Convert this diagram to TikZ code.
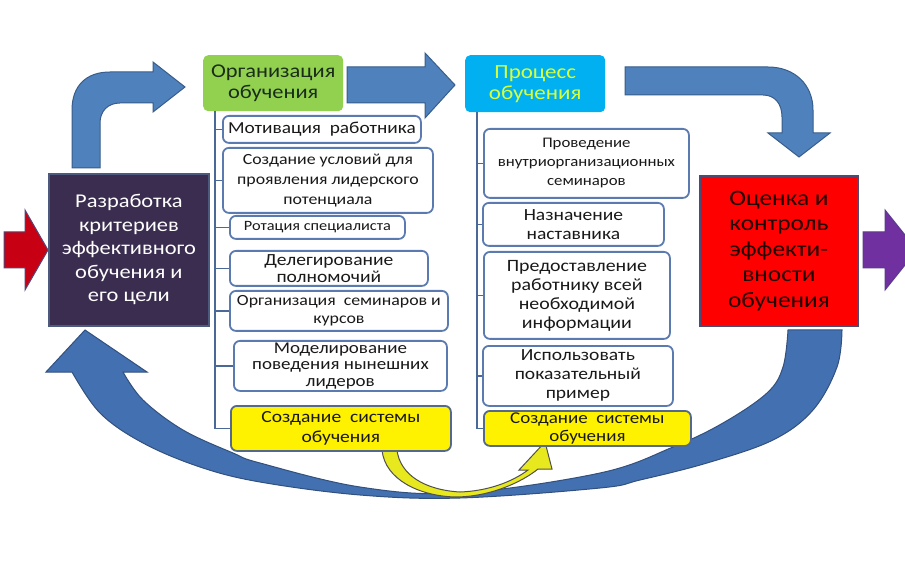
\documentclass[tikz,border=0pt]{standalone}
\usepackage{fontspec}
\setmainfont{Carlito}[FakeStretch=1.15]
\begin{document}
\begin{tikzpicture}[x=1pt,y=-1pt,
  arrowblue/.style={fill={rgb,255:red,79;green,129;blue,189},draw={rgb,255:red,56;green,93;blue,138},line width=1pt},
  arcblue/.style={fill={rgb,255:red,66;green,112;blue,176},draw={rgb,255:red,50;green,80;blue,125},line width=1pt},
  listbox/.style={draw={rgb,255:red,91;green,123;blue,176},line width=1.8pt,rounded corners=6pt,fill=white,
     anchor=north west,inner sep=0pt,align=center,text={rgb,255:red,25;green,25;blue,25}},
  yellowbox/.style={listbox,fill=yellow,draw={rgb,255:red,85;green,105;blue,140}},
  headbox/.style={anchor=north west,inner sep=0pt,align=center,rounded corners=5pt},
  bigbox/.style={anchor=north west,inner sep=0pt,align=center,line width=1.8pt},
  conn/.style={draw={rgb,255:red,75;green,105;blue,150},line width=1.5pt}
]
\clip (0,0) rectangle (905,569);
\useasboundingbox (0,0) rectangle (905,569);
\fill[white] (0,0) rectangle (905,569);

% big bottom curved arrow
\path[arcblue] (85,330) -- (147,372) -- (123,372)
  -- plot[smooth,tension=0.6] coordinates {(123,372) (143,400) (183,430) (233,453) (260,463) (360,487) (460,493) (600,473) (673,447) (723,423) (767,393) (783,367) (788,330)}
  -- (842,330)
  -- plot[smooth,tension=0.6] coordinates {(842,330) (837,367) (813,410) (773,440) (707,463) (640,480) (600,488) (460,498) (360,495) (260,482) (200,467) (143,443) (100,413) (72,372)}
  -- (46,372) -- cycle;

% yellow curved arrow
\path[fill={rgb,255:red,232;green,232;blue,30},draw={rgb,255:red,80;green,80;blue,80},line width=1pt]
  (382,450) .. controls (385,480) and (420,496) .. (455,497)
  .. controls (490,497) and (522,482) .. (538,469)
  -- (552,469) -- (545,442) -- (519,470) -- (528,470)
  .. controls (512,482) and (488,491) .. (460,492)
  .. controls (425,490) and (400,475) .. (397,450) -- cycle;

% left bent arrow
\path[arrowblue] (72,168) -- (72,110) .. controls (72,86) and (86,72) .. (110,72) -- (153,72) -- (153,62) -- (185,87) -- (153,112) -- (153,103) -- (120,103) .. controls (108,103) and (100,111) .. (100,123) -- (100,168) -- cycle;
% straight arrow
\path[arrowblue] (347,67) -- (425,67) -- (425,53) -- (455,85) -- (425,118) -- (425,103) -- (347,103) -- cycle;
% right bent arrow
\path[arrowblue] (625,67) -- (768,67) .. controls (795,67) and (813,85) .. (813,110) -- (813,133) -- (830,133) -- (799,157) -- (768,133) -- (782,133) -- (782,117) .. controls (782,104) and (775,95) .. (763,95) -- (625,95) -- cycle;

% in / out arrows
\path[fill={rgb,255:red,200;green,0;blue,20},draw={rgb,255:red,80;green,70;blue,120},line width=1pt]
  (4,232) -- (25,232) -- (25,210) -- (48,250) -- (25,290) -- (25,268) -- (4,268) -- cycle;
\path[fill={rgb,255:red,112;green,48;blue,160},draw={rgb,255:red,90;green,60;blue,140},line width=1pt]
  (863,232) -- (885,232) -- (885,210) -- (917,250) -- (885,290) -- (885,268) -- (863,268) -- cycle;

% main boxes
\node[bigbox,fill={rgb,255:red,59;green,45;blue,79},draw={rgb,255:red,75;green,90;blue,125},text=white,
  minimum width=160pt,minimum height=152pt,font=\fontsize{19.5}{23.5}\selectfont] (dev) at (48,173)
  {Разработка\\критериев\\эффективного\\обучения и\\его цели};
\node[bigbox,fill=red,draw={rgb,255:red,75;green,75;blue,120},text={rgb,255:red,35;green,0;blue,0},
  minimum width=158pt,minimum height=150pt,font=\fontsize{22}{25.5}\selectfont] (eval) at (699,175)
  {Оценка и\\контроль\\эффекти-\\вности\\обучения};
\node[headbox,fill={rgb,255:red,146;green,208;blue,80},text={rgb,255:red,25;green,45;blue,25},
  minimum width=140pt,minimum height=56pt,font=\fontsize{19.5}{21}\selectfont] (org) at (203,55)
  {Организация\\обучения};
\node[headbox,fill={rgb,255:red,0;green,176;blue,240},text={rgb,255:red,215;green,255;blue,60},
  minimum width=140pt,minimum height=57pt,font=\fontsize{20}{21}\selectfont] (proc) at (465,55)
  {Процесс\\обучения};

% left list
\node[listbox,minimum width=198pt,minimum height=27pt,font=\fontsize{16.8}{19}\selectfont] (l1) at (222,115) {Мотивация\ \ работника};
\node[listbox,minimum width=210pt,minimum height=65pt,font=\fontsize{15.5}{20}\selectfont] (l2) at (222,147) {Создание условий для\\проявления лидерского\\потенциала};
\node[listbox,minimum width=175pt,minimum height=23pt,font=\fontsize{14.2}{16}\selectfont] (l3) at (229,215) {Ротация специалиста};
\node[listbox,minimum width=198pt,minimum height=35pt,font=\fontsize{17}{17}\selectfont] (l4) at (229,250) {Делегирование\\полномочий};
\node[listbox,minimum width=218pt,minimum height=40pt,font=\fontsize{15.5}{18}\selectfont] (l5) at (229,290) {Организация\ \ семинаров и\\курсов};
\node[listbox,minimum width=213pt,minimum height=50pt,font=\fontsize{16.5}{16.5}\selectfont] (l6) at (233,340) {Моделирование\\поведения нынешних\\лидеров};
\node[yellowbox,minimum width=220pt,minimum height=45pt,font=\fontsize{17}{20}\selectfont] (l7) at (230,405) {Создание\ \ системы\\обучения};

% right list
\node[listbox,minimum width=205pt,minimum height=69pt,font=\fontsize{14.6}{19}\selectfont] (r1) at (483,128) {Проведение\\внутриорганизационных\\семинаров};
\node[listbox,minimum width=181pt,minimum height=43pt,font=\fontsize{17}{19}\selectfont] (r2) at (482,202) {Назначение\\наставника};
\node[listbox,minimum width=186pt,minimum height=87pt,font=\fontsize{17.3}{19}\selectfont] (r3) at (483,251) {Предоставление\\работнику\ всей\\необходимой\\информации};
\node[listbox,minimum width=190pt,minimum height=60pt,font=\fontsize{17}{19}\selectfont] (r4) at (482,345) {Использовать\\показательный\\пример};
\node[yellowbox,minimum width=207pt,minimum height=35pt,font=\fontsize{16.5}{18}\selectfont] (r5) at (483,410) {Создание\ \ системы\\обучения};

% connectors
\coordinate (lt) at (215,111);
\coordinate (rt) at (477,112);
\draw[conn] (lt) |- (l7.west);
\foreach \n in {l1,l2,l3,l4,l5,l6} \draw[conn] (lt |- \n.west) -- (\n.west);
\draw[conn] (rt) |- (r5.west);
\foreach \n in {r1,r2,r3,r4} \draw[conn] (rt |- \n.west) -- (\n.west);
\end{tikzpicture}
\end{document}
